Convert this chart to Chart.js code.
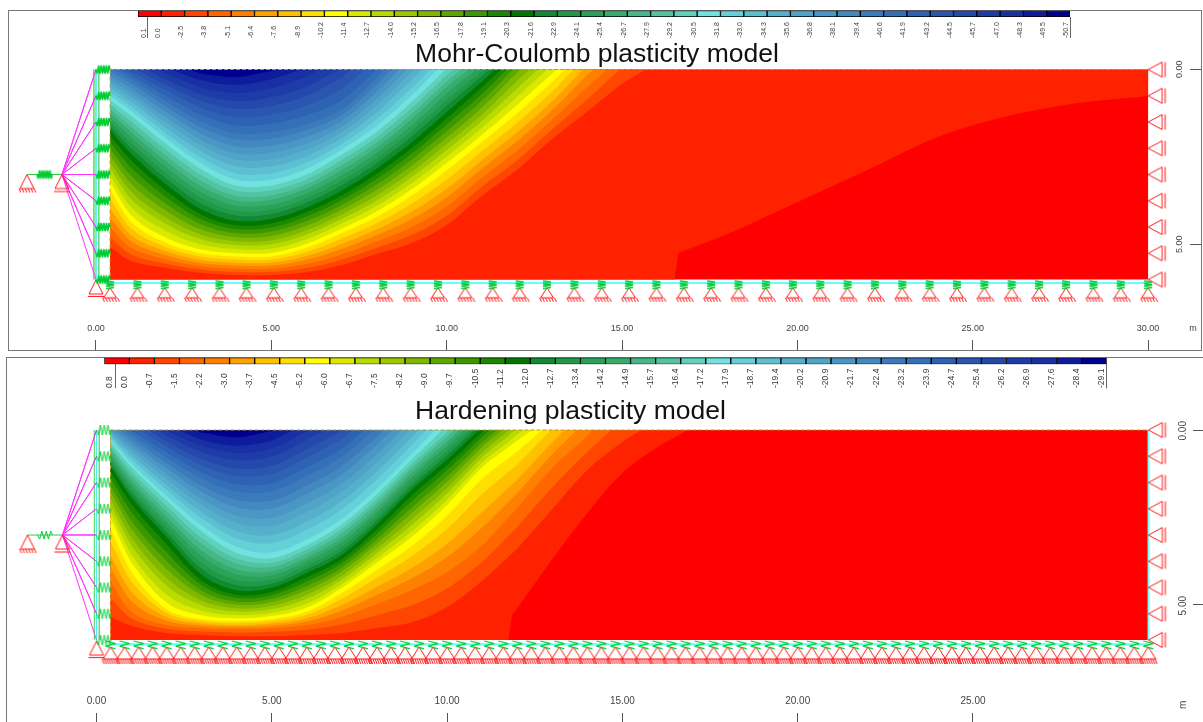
<!DOCTYPE html>
<html><head><meta charset="utf-8">
<script src="https://cdn.jsdelivr.net/npm/chart.js@4/dist/chart.umd.min.js"></script>
<style>
html,body{margin:0;padding:0;background:#fff;width:1203px;height:722px;overflow:hidden;position:relative}
canvas{position:absolute;display:block}
.frame{position:absolute;border:1px solid #777;box-sizing:border-box}
</style></head><body>
<div class="frame" style="left:8px;top:10px;width:1194px;height:341px"></div>
<div class="frame" style="left:6px;top:357px;width:1210px;height:380px"></div>
<canvas id="mcMain" width="1212" height="351" style="left:-9px;top:0"></canvas>
<canvas id="hpMain" width="1265" height="366" style="left:-62px;top:357px"></canvas>
<canvas id="mcBar" width="950" height="36" style="left:130px;top:5px"></canvas>
<canvas id="hpBar" width="1020" height="40" style="left:96px;top:352px"></canvas>
<script>
const n = null;
const palette = ['#ff0000','#ff2200','#ff4600','#ff6600','#ff8000','#ffa000','#ffc000','#ffdf00','#ffff00','#dce800',
 '#b8dc00','#9cc800','#80b800','#5ca800','#3c9800','#1c8800','#007800','#128a32','#209a46','#2ca258',
 '#38ac6c','#46b888','#52c4a2','#5ed2bc','#70e2e0','#64d0d8','#5cc0d2','#56b0cc','#50a4c8','#4a96c4',
 '#4488c0','#3c7abc','#3470b8','#2e62b4','#2a56b0','#2448ac','#1e3ca8','#1830a4','#0c1c9c','#00008e'];

const mcTickLabels = ['0.1','0.0','-2.5','-3.8','-5.1','-6.4','-7.6','-8.9','-10.2','-11.4','-12.7','-14.0','-15.2','-16.5','-17.8','-19.1','-20.3','-21.6','-22.9','-24.1','-25.4','-26.7','-27.9','-29.2','-30.5','-31.8','-33.0','-34.3','-35.6','-36.8','-38.1','-39.4','-40.6','-41.9','-43.2','-44.5','-45.7','-47.0','-48.3','-49.5','-50.7'];
const hpTickLabels = ['0.8','0.0','-0.7','-1.5','-2.2','-3.0','-3.7','-4.5','-5.2','-6.0','-6.7','-7.5','-8.2','-9.0','-9.7','-10.5','-11.2','-12.0','-12.7','-13.4','-14.2','-14.9','-15.7','-16.4','-17.2','-17.9','-18.7','-19.4','-20.2','-20.9','-21.7','-22.4','-23.2','-23.9','-24.7','-25.4','-26.2','-26.9','-27.6','-28.4','-29.1'];
const mcBarTicks = [0.416,1,2,3,4,5,6,7,8,9,10,11,12,13,14,15,16,17,18,19,20,21,22,23,24,25,26,27,28,29,30,31,32,33,34,35,36,37,38,39,40];
const hpBarTicks = [0.427,1,2,3,4,5,6,7,8,9,10,11,12,13,14,15,16,17,18,19,20,21,22,23,24,25,26,27,28,29,30,31,32,33,34,35,36,37,38,39,40];

// Mohr-Coulomb: x stations (m), value at the surface and at the base, depth (m) of each read iso-line
const mcStations = [0.4,1,2,3,4,5,6,7,8,9,10,11,12,13,14,15,16,16.5,16.6,18,20,22,24,26,28,30];
const mcSurface = [-40,-44,-48,-50.3,-50.7,-49.7,-48,-45.5,-42,-36,-30.3,-24.5,-17,-12,-7,-3.6,-2,-1.9,-1.9,-1.8,-1.7,-1.6,-1.5,-1.4,-1.3,-1.2];
const mcBase = [-1.5,-1.5,-1.5,-1.5,-1.5,-1.5,-1.5,-1.5,-1.5,-1.5,-1.5,-1.5,-1.5,-1.5,-1.5,-1.5,-1.5,-1.5,0.05,0.05,0.05,0.05,0.05,0.05,0.05,0.05];
const mcLevels = [-41,-31.2,-21,-10.8,-2.5,0];
const mcIso41 = [n,.24,.87,1.44,1.76,1.73,1.5,1.1,.2,n,n,n,n,n,n,n,n,n,n,n,n,n,n,n,n,n];
const mcIso31 = [.81,1.24,2.04,2.76,3.24,3.24,2.93,2.36,1.7,.84,n,n,n,n,n,n,n,n,n,n,n,n,n,n,n,n];
const mcIso21 = [1.79,2.47,3.36,4.07,4.39,4.33,4.01,3.53,2.9,2.16,1.3,.41,n,n,n,n,n,n,n,n,n,n,n,n,n,n];
const mcIso11 = [3.3,4.27,4.9,5.21,5.3,5.3,5.04,4.61,4.13,3.5,2.76,1.96,1.13,.24,n,n,n,n,n,n,n,n,n,n,n,n];
const mcIso25 = [5.07,5.47,5.67,5.81,5.87,5.87,5.79,5.59,5.27,4.96,4.44,3.61,2.87,1.99,1.21,.41,n,n,n,n,n,n,n,n,n,n];
const mcIso0 = [n,n,n,n,n,n,n,n,n,n,n,n,n,n,n,n,n,n,5.24,4.7,3.79,2.87,1.93,1.33,.96,.76];

// Hardening model
const hpStations = [0.4,1,2,3,4,5,6,7,8,9,10,11,11.75,11.85,12,13,14,15,16,17,30];
const hpSurface = [-21,-24,-27,-28.7,-29.1,-28.5,-27,-25.5,-23,-20,-16.8,-11.5,-8.3,-7.8,-7.2,-4.4,-2.4,-1.1,-.35,.05,.05];
const hpBase = [-.4,-.4,-.4,-.4,-.4,-.4,-.4,-.4,-.4,-.4,-.4,-.4,-.4,.05,.05,.05,.05,.05,.05,.05,.05];
const hpLevels = [-17.6,-11.6,-5.6,-2.2,-0.7,0];
const hpIso18 = [.29,1.0,1.94,2.8,3.43,3.6,3.23,2.63,1.77,.77,n,n,n,n,n,n,n,n,n,n,n];
const hpIso12 = [1.09,2.0,3.14,4.23,4.66,4.57,4.14,3.63,2.77,1.77,.91,n,n,n,n,n,n,n,n,n,n];
const hpIso6 = [2.63,3.91,5.06,5.37,5.43,5.37,5.14,4.57,3.86,3.14,2.23,1.14,.58,.51,.4,n,n,n,n,n,n];
const hpIso22 = [4.34,5.2,5.57,5.66,5.69,5.66,5.57,5.34,4.97,4.57,4.06,3.29,2.5,2.39,2.23,1.09,.17,n,n,n,n];
const hpIso07 = [5.34,5.6,5.8,5.86,5.89,5.89,5.86,5.8,5.66,5.49,5.06,4.31,3.62,3.53,3.39,2.26,1.14,.34,n,n,n];
const hpIso0 = [n,n,n,n,n,n,n,n,n,n,n,n,n,5.29,5.09,3.69,2.37,1.23,.49,n,n];

const wallNodes = [0,.75,1.5,2.25,3,3.75,4.5,5.25,6];
const mcSupports = [0.4,1.18,1.96,2.74,3.52,4.29,5.07,5.85,6.63,7.41,8.19,8.97,9.75,10.53,11.31,12.08,12.86,13.64,14.42,15.2,15.98,16.76,17.54,18.32,19.1,19.87,20.65,21.43,22.21,22.99,23.77,24.55,25.33,26.11,26.89,27.66,28.44,29.22,30];
const hpSupports = [.4,.8,1.2,1.6,2,2.4,2.8,3.2,3.6,4,4.4,4.8,5.2,5.6,6,6.4,6.8,7.2,7.6,8,8.4,8.8,9.2,9.6,10,10.4,10.8,11.2,11.6,12,12.4,12.8,13.2,13.6,14,14.4,14.8,15.2,15.6,16,16.4,16.8,17.2,17.6,18,18.4,18.8,19.2,19.6,20,20.4,20.8,21.2,21.6,22,22.4,22.8,23.2,23.6,24,24.4,24.8,25.2,25.6,26,26.4,26.8,27.2,27.6,28,28.4,28.8,29.2,29.6,30];
const mcXTicks = [0,5,10,15,20,25,30,31.28];
const mcXLabels = ['0.00','5.00','10.00','15.00','20.00','25.00','30.00','m'];
const hpXTicks = [0,5,10,15,20,25];
const hpXLabels = ['0.00','5.00','10.00','15.00','20.00','25.00'];
const mcYTicks = [0,5];
const mcYLabels = ['0.00','5.00'];
const hpYTicks = [0,5,7.99];
const hpYLabels = ['0.00','5.00','m'];

const SANS = '"Liberation Sans", Arial, sans-serif';
Chart.defaults.font.family = SANS;

function glyph(w,h,draw){const c=document.createElement('canvas');c.width=w;c.height=h;const g=c.getContext('2d');g.translate(w/2,h/2);g.lineJoin='bevel';draw(g);return c;}
const RED='#ff1818', GREEN='#00cc33';
function tri(g,ay,by,hw){g.strokeStyle=RED;g.lineWidth=1;g.beginPath();g.moveTo(0,ay);g.lineTo(-hw,by);g.lineTo(hw,by);g.closePath();g.stroke();}
function hatch(g,by,hw,len,step){g.strokeStyle=RED;g.lineWidth=1;g.beginPath();for(let x=-hw;x<=hw;x+=step){g.moveTo(x,by);g.lineTo(x+2,by+len);}g.stroke();}
function zigV(g,y0,y1,hw,step,lw){g.strokeStyle=GREEN;g.lineWidth=lw;g.beginPath();let s=1;g.moveTo(-hw,y0);for(let y=y0+step;y<=y1;y+=step){g.lineTo(hw*s,y);s=-s;}g.stroke();}
function zigH(g,x0,x1,hw,step,lw){g.strokeStyle=GREEN;g.lineWidth=lw;g.beginPath();let s=1;g.moveTo(x0,0);for(let x=x0+step;x<=x1+.01;x+=step){g.lineTo(x,hw*s);s=-s;}g.lineTo(x1,0);g.stroke();}

const glyphs = {
 mcSupport: glyph(24,30,g=>{tri(g,-4,6,6.5);hatch(g,6,7.5,4,3);}),
 hpSupport: glyph(24,30,g=>{tri(g,-5,7,7.5);hatch(g,7,8.5,5,2.2);}),
 mcSpring: glyph(24,30,g=>zigV(g,-11,-3,4,1.3,1.6)),
 hpSpring: glyph(24,30,g=>zigV(g,-11,-3,5,2.6,1.2)),
 mcWall: glyph(16,14,g=>zigH(g,-7,7,4,1.3,1.6)),
 hpWall: glyph(16,14,g=>zigH(g,-7,7,5,1.9,1)),
 roller: glyph(22,18,g=>{g.strokeStyle=RED;g.lineWidth=1;g.beginPath();g.moveTo(-8,0);g.lineTo(6,-7.5);g.lineTo(6,7.5);g.closePath();g.moveTo(9,-7.5);g.lineTo(9,7.5);g.stroke();}),
 hinge: glyph(20,22,g=>{tri(g,-8,6,7);g.beginPath();g.moveTo(-8,9);g.lineTo(8,9);g.stroke();}),
 ground: glyph(20,24,g=>{tri(g,-8,6,7);hatch(g,6,8,4,3);}),
 corner: glyph(20,24,g=>{tri(g,-8,6,7);g.beginPath();g.moveTo(-8,8.5);g.lineTo(8,8.5);g.stroke();}),
 mcLink: glyph(20,12,g=>zigH(g,-7.5,7.5,4,1.3,1.7)),
 hpLink: glyph(20,12,g=>zigH(g,-7.5,7.5,4,2.2,1))
};

function pts(xs,ys){return xs.map((x,i)=>({x,y:ys[i]}));}
function depthOf(edge,col){
  let last=col[0];
  for(let i=1;i<col.length;i++){
    const c=col[i];
    if(c[1]>edge && last[1]<=edge){return last[0]+(c[0]-last[0])*(edge-last[1])/(c[1]-last[1]);}
    if(c[1]<=edge) last=c;
  }
  return last[0];
}
// round the polygon's lower edge between its stations so the contour has no corners
function roundEdge(a){
  const out=[];
  for(let i=0;i<a.length-1;i++){
    const p=a[i],q=a[i+1],h=q.x-p.x;
    if(Math.abs(h)<.5){out.push(p);continue;}
    const pre=a[i-1]||p,post=a[i+2]||q;
    const steepA=Math.abs(p.x-pre.x)<.5&&i>0,steepB=Math.abs(post.x-q.x)<.5&&i<a.length-2;
    const m0=steepA?(q.y-p.y)/h:(q.y-pre.y)/(q.x-pre.x||1);
    const m1=steepB?(q.y-p.y)/h:(post.y-p.y)/(post.x-p.x||1);
    for(let s=0;s<6;s++){
      const t=s/6,t2=t*t,t3=t2*t;
      const y=(2*t3-3*t2+1)*p.y+(t3-2*t2+t)*h*m0+(-2*t3+3*t2)*q.y+(t3-t2)*h*m1;
      out.push({x:p.x+h*t,y:Math.max(0,Math.min(6,y))});
    }
  }
  out.push(a[a.length-1]);
  return out;
}
function region(edge,stations,surface,base,levels,rows){
  const act=[];
  stations.forEach((x,i)=>{
    if(surface[i]>edge) return;
    const col=[[0,surface[i]]];
    levels.forEach((L,r)=>{ if(rows[r][i]!==null) col.push([rows[r][i],L]); });
    col.push([6,base[i]]);
    act.push({i,x,y:depthOf(edge,col)});
  });
  if(!act.length) return [];
  const f=act[0].i,l=act[act.length-1].i;
  let xl=stations[f],xr=stations[l];
  if(f>0) xl=stations[f-1]+(stations[f]-stations[f-1])*(edge-surface[f-1])/(surface[f]-surface[f-1]);
  if(l<stations.length-1) xr=stations[l]+(stations[l+1]-stations[l])*(edge-surface[l])/(surface[l+1]-surface[l]);
  const lower=[];
  if(f>0) lower.push({x:xl,y:0});
  act.forEach(a=>lower.push({x:a.x,y:a.y}));
  if(l<stations.length-1) lower.push({x:xr,y:0});
  const p=[{x:xl,y:0},{x:xr,y:0}];
  const r=roundEdge(lower).reverse();
  r.forEach(q=>p.push(q));
  p.push({x:xl,y:0});
  return p;
}
function lineSet(data,color,width,dash){return {data,showLine:true,borderColor:color,borderWidth:width,borderDash:dash||[],pointRadius:0,fill:false,clip:false,order:-1};}
function markSet(data,img,order){return {data,showLine:false,pointStyle:img,pointRadius:6,clip:false,order:order===undefined?-2:order};}

function makeMain(id,c){
  const rows=c.rows, ds=[];
  palette.forEach((col,k)=>{
    ds.push({data:region(Number(c.labels[k]),c.stations,c.surface,c.base,c.levels,rows),showLine:true,fill:'shape',
      backgroundColor:col,borderColor:col,borderWidth:0,pointRadius:0,order:1000-k,tension:0});
  });
  const fan=[]; wallNodes.forEach(y=>{fan.push({x:-.97,y:3});fan.push({x:0,y});});
  ds.push(lineSet(fan,'#ff33ff',1));
  ds.push(lineSet(pts([-.06,-.06],[0,6]),'#66dd77',1));
  ds.push(lineSet(pts([.08,.08],[0,6]),'#66dd77',1));
  ds.push(lineSet(pts([0,0],[0,6]),'#55eeee',1));
  ds.push(lineSet(pts([-1.97,-.97],[3,3]),'#33cc44',1));
  ds.push(lineSet(pts([.4,30],[c.cyanY,c.cyanY]),'#66ffff',2));
  if(c.rightCyan) ds.push(lineSet(pts([30,30],[0,6]),'#66ffff',1));
  ds.push(lineSet(pts([.4,30],[0,0]),'#b89a30',1,[4,2]));
  ds.push(lineSet(pts([.4,.4],[0,6]),'#c9a83c',1,[4,3]));
  ds.push(markSet(wallNodes.map(y=>({x:.2,y})),c.wallGlyph));
  ds.push(markSet(wallNodes.map(y=>({x:30.23,y})),glyphs.roller));
  ds.push(markSet(c.supports.map(x=>({x,y:c.supportY})),c.supportGlyph));
  ds.push(markSet(c.supports.map(x=>({x,y:c.supportY})),c.springGlyph,-3));
  ds.push(markSet([{x:-.97,y:3.23}],glyphs.hinge));
  ds.push(markSet([{x:-1.97,y:3.23}],glyphs.ground));
  ds.push(markSet([{x:0,y:c.cornerY}],glyphs.corner));
  ds.push(markSet([{x:-1.47,y:3}],c.linkGlyph));
  return new Chart(document.getElementById(id),{
    type:'scatter',
    data:{datasets:ds},
    options:{
      responsive:false,animation:false,events:[],
      layout:{padding:0,autoPadding:false},
      plugins:{legend:{display:false},tooltip:{enabled:false},
        title:{display:true,text:c.title,color:'#111',font:{size:26.5,weight:'normal',family:SANS,lineHeight:1},padding:{top:41.5,bottom:0}}},
      scales:{
        x:{type:'linear',position:'bottom',min:c.xMin,max:c.xMax,
          border:{display:false},
          grid:{drawOnChartArea:false,tickLength:c.xTickLen,tickColor:t=>t.index===7?'rgba(0,0,0,0)':'#555',tickWidth:1},
          afterBuildTicks:s=>{s.ticks=c.xTicks.map(value=>({value}));},
          afterFit:s=>{s.height=1;s.paddingLeft=0;s.paddingRight=0;},
          ticks:{autoSkip:false,mirror:true,minRotation:0,maxRotation:0,padding:c.xLabelPad,color:'#444',font:{size:c.tickSize},callback:(v,i)=>c.xLabels[i]}},
        y:{type:'linear',position:'right',reverse:true,min:c.yMin,max:c.yMax,
          border:{display:false},
          grid:{drawOnChartArea:false,tickLength:c.yTickLen,tickColor:t=>t.index===2?'rgba(0,0,0,0)':'#555',tickWidth:1},
          afterBuildTicks:s=>{s.ticks=c.yTicks.map(value=>({value}));},
          afterFit:s=>{s.width=c.yAxisWidth;s.paddingTop=0;s.paddingBottom=0;},
          ticks:{autoSkip:false,minRotation:90,maxRotation:90,mirror:true,padding:-10,labelOffset:-9,color:'#444',font:{size:c.tickSize},callback:(v,i)=>c.yLabels[i]}}
      }
    }
  });
}

const rotatedLabels={id:'rotatedLabels',afterDraw(chart,a,o){
  const g=chart.ctx,s=chart.scales.x;
  g.save();g.fillStyle='#3a3a3a';g.font=o.size+'px '+SANS;g.textAlign='left';g.textBaseline='middle';
  o.labels.forEach((t,i)=>{g.save();g.translate(s.getPixelForValue(o.ticks[i])+o.shift,o.startY);g.rotate(-Math.PI/2);g.fillText(t,0,0);g.restore();});
  g.restore();
}};

function makeBar(id,labels,ticks,pad,tl,size,shift,startY,cell){
  const data=palette.map((c,i)=>({x:i+.5,y:1}));
  return new Chart(document.getElementById(id),{
    type:'bar',
    data:{datasets:[{data,backgroundColor:palette,borderColor:'#000',borderWidth:1,borderSkipped:false,barThickness:cell}]},
    plugins:[rotatedLabels],
    options:{responsive:false,animation:false,events:[],
      layout:{padding:pad,autoPadding:false},
      plugins:{legend:{display:false},tooltip:{enabled:false},rotatedLabels:{labels,ticks,size,shift,startY}},
      scales:{
        x:{type:'linear',offset:false,min:0,max:40,border:{display:false},
          grid:{offset:false,drawOnChartArea:false,tickLength:tl,tickColor:t=>(t.index===0||t.index===40)?'#666':'rgba(0,0,0,0)'},
          afterBuildTicks:s=>{s.ticks=ticks.map(value=>({value}));},
          afterFit:s=>{s.height=0;s.paddingLeft=0;s.paddingRight=0;},
          ticks:{display:false,autoSkip:false,callback:(v,i)=>labels[i]}},
        y:{display:false,min:0,max:1}
      }
    }
  });
}

makeMain('mcMain',{title:'Mohr-Coulomb plasticity model',labels:mcTickLabels,stations:mcStations,surface:mcSurface,base:mcBase,levels:mcLevels,
  rows:[mcIso41,mcIso31,mcIso21,mcIso11,mcIso25,mcIso0],
  supports:mcSupports,supportY:6.35,supportGlyph:glyphs.mcSupport,springGlyph:glyphs.mcSpring,wallGlyph:glyphs.mcWall,linkGlyph:glyphs.mcLink,cornerY:6.24,cyanY:6.1,rightCyan:false,
  xMin:-2.994,xMax:31.195,yMin:-.0429,yMax:8.014,xTicks:mcXTicks,xLabels:mcXLabels,yTicks:mcYTicks,yLabels:mcYLabels,xTickLen:-10,yTickLen:11,yAxisWidth:13,xLabelPad:16,tickSize:9});
makeMain('hpMain',{title:'Hardening plasticity model',labels:hpTickLabels,stations:hpStations,surface:hpSurface,base:hpBase,levels:hpLevels,
  rows:[hpIso18,hpIso12,hpIso6,hpIso22,hpIso07,hpIso0],
  supports:hpSupports,supportY:6.34,supportGlyph:glyphs.hpSupport,springGlyph:glyphs.hpSpring,wallGlyph:glyphs.hpWall,linkGlyph:glyphs.hpLink,cornerY:6.26,cyanY:6.12,rightCyan:true,
  xMin:-4.521,xMax:31.275,yMin:-.143,yMax:8.343,xTicks:hpXTicks,xLabels:hpXLabels,yTicks:hpYTicks,yLabels:hpYLabels,xTickLen:-9,yTickLen:10,yAxisWidth:10,xLabelPad:15,tickSize:10});
makeBar('mcBar',mcTickLabels,mcBarTicks,{left:8,right:10,top:5.5,bottom:24},21,7,-3.5,33,23.3);
makeBar('hpBar',hpTickLabels,hpBarTicks,{left:8.3,right:9.3,top:5.7,bottom:27.7},24,8.5,-5,36,25.06);
</script>
</body></html>
